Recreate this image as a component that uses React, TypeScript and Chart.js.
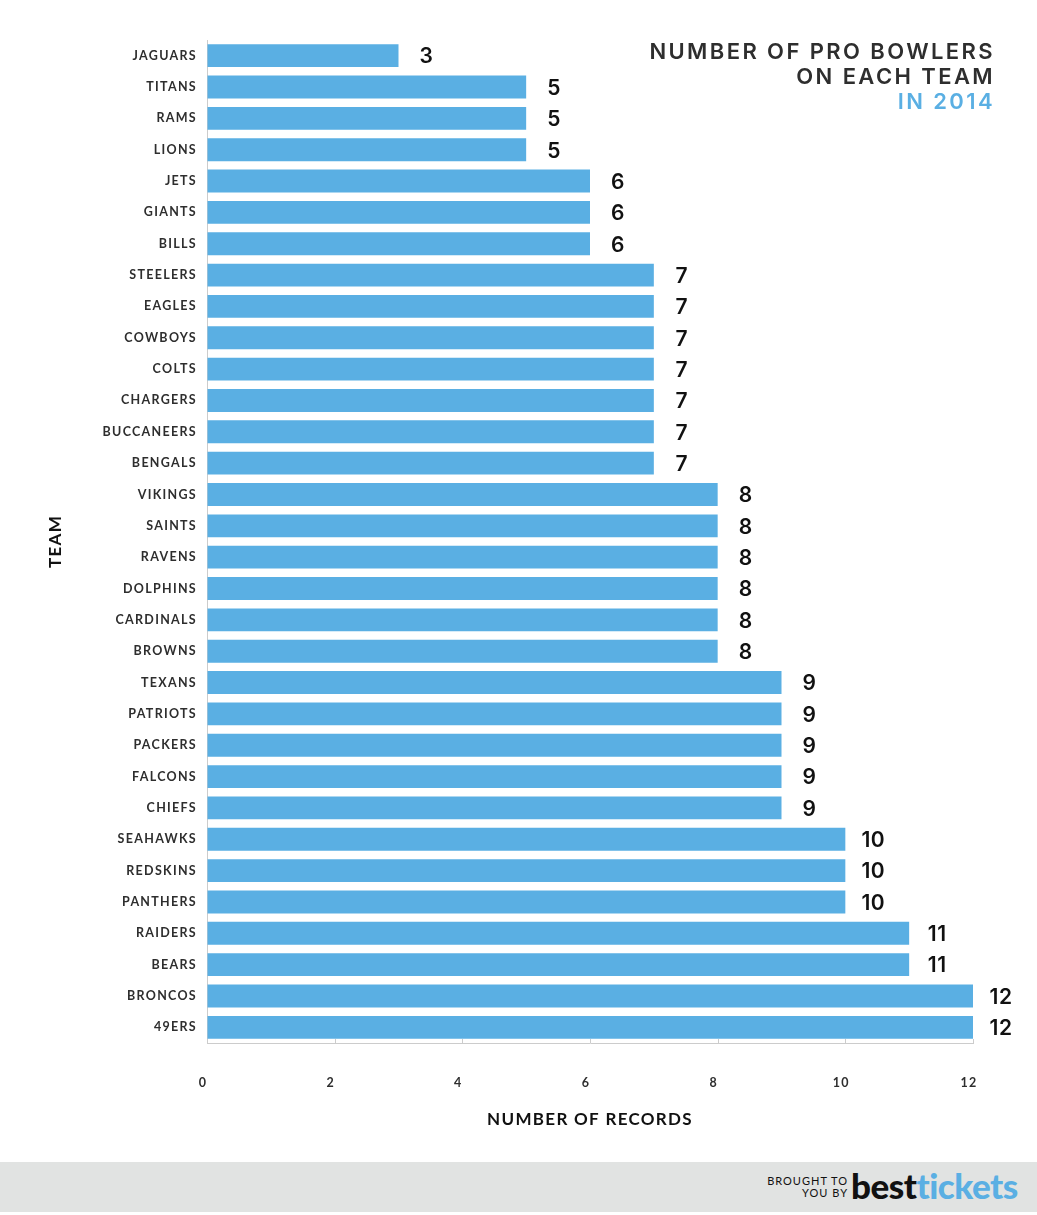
import React, { useEffect, useRef } from "react";
import { Chart, registerables } from "chart.js";

Chart.register(...registerables);

const teams = [
  "JAGUARS", "TITANS", "RAMS", "LIONS", "JETS", "GIANTS", "BILLS", "STEELERS",
  "EAGLES", "COWBOYS", "COLTS", "CHARGERS", "BUCCANEERS", "BENGALS", "VIKINGS",
  "SAINTS", "RAVENS", "DOLPHINS", "CARDINALS", "BROWNS", "TEXANS", "PATRIOTS",
  "PACKERS", "FALCONS", "CHIEFS", "SEAHAWKS", "REDSKINS", "PANTHERS", "RAIDERS",
  "BEARS", "BRONCOS", "49ERS",
];
const proBowlers = [
  3, 5, 5, 5, 6, 6, 6, 7, 7, 7, 7, 7, 7, 7, 8, 8, 8, 8, 8, 8, 9, 9, 9, 9, 9,
  10, 10, 10, 11, 11, 12, 12,
];
const titleLines = ["NUMBER OF PRO BOWLERS", "ON EACH TEAM"];
const titleYear = "IN 2014";
const xAxisTitle = "NUMBER OF RECORDS";
const yAxisTitle = "TEAM";

const BLUE = "#5aafe3";
const DARK = "#2e2e2e";
const FONT = "Lato, 'Open Sans', sans-serif";

const spacingPlugin = {
  id: "spacing",
  beforeDraw(chart: any) {
    (chart.ctx as any).letterSpacing = "1.3px";
  },
};

const tickMarksPlugin = {
  id: "tickMarks",
  afterDatasetsDraw(chart: any) {
    const ctx = chart.ctx;
    const xs = chart.scales.x;
    ctx.save();
    ctx.strokeStyle = "#cccccc";
    ctx.lineWidth = 1;
    xs.ticks.forEach((_t: any, i: number) => {
      const px = Math.round(xs.getPixelForTick(i)) + 0.5;
      ctx.beginPath();
      ctx.moveTo(px, xs.top);
      ctx.lineTo(px, xs.top - 4);
      ctx.stroke();
    });
    ctx.restore();
  },
};

const valueLabelsPlugin = {
  id: "valueLabels",
  afterDatasetsDraw(chart: any) {
    const ctx = chart.ctx;
    const meta = chart.getDatasetMeta(0);
    ctx.save();
    ctx.letterSpacing = "0.5px";
    ctx.fillStyle = "#111111";
    ctx.font = `600 21px Inter, ${FONT}`;
    ctx.textAlign = "center";
    ctx.textBaseline = "middle";
    meta.data.forEach((bar: any, i: number) => {
      ctx.fillText(String(proBowlers[i]), bar.x + 28, bar.y + 1.5);
    });
    ctx.restore();
  },
};

export default function App() {
  const canvasRef = useRef<HTMLCanvasElement | null>(null);

  useEffect(() => {
    document.body.style.margin = "0";
    const canvas = canvasRef.current;
    if (!canvas) return;
    const chart = new Chart(canvas, {
      type: "bar",
      data: {
        labels: teams,
        datasets: [
          {
            data: proBowlers,
            backgroundColor: BLUE,
            borderWidth: 0,
            barPercentage: 0.73,
            categoryPercentage: 1,
          },
        ],
      },
      options: {
        indexAxis: "y",
        responsive: false,
        animation: false,
        maintainAspectRatio: false,
        layout: { padding: { left: 0, right: 64, top: 40, bottom: 0 } },
        plugins: {
          legend: { display: false },
          tooltip: { enabled: false },
          title: { display: false },
        },
        scales: {
          x: {
            min: 0,
            max: 12,
            afterFit: (scale: any) => {
              scale.height = 119;
            },
            ticks: {
              stepSize: 2,
              padding: 32,
              labelOffset: -4,
              color: DARK,
              font: { family: FONT, size: 12.5, weight: "bold" },
            },
            grid: { drawOnChartArea: false, drawTicks: false },
            border: { display: true, color: "#cccccc" },
            title: {
              display: true,
              text: xAxisTitle,
              color: "#111111",
              font: { family: FONT, size: 17, weight: "bold" },
              padding: { top: 0, bottom: 32 },
            },
          },
          y: {
            afterFit: (scale: any) => {
              scale.width = 207;
            },
            ticks: {
              padding: 10,
              color: DARK,
              autoSkip: false,
              font: { family: FONT, size: 12.5, weight: "bold" },
            },
            grid: { drawOnChartArea: false, drawTicks: false },
            border: { display: true, color: "#cccccc" },
            title: {
              display: true,
              text: yAxisTitle,
              color: "#111111",
              font: { family: FONT, size: 17, weight: "bold" },
              padding: { top: 45, bottom: 0 },
            },
          },
        },
      },
      plugins: [spacingPlugin, tickMarksPlugin, valueLabelsPlugin],
    } as any);
    return () => chart.destroy();
  }, []);

  return (
    <div style={{ position: "relative", width: 1037, height: 1215, background: "#fff", overflow: "hidden" }}>
      <canvas ref={canvasRef} width={1037} height={1162} style={{ position: "absolute", left: 0, top: 0 }} />
      <div
        style={{
          position: "absolute",
          right: 1037 - 995,
          top: 39,
          textAlign: "right",
          fontFamily: `Inter, ${FONT}`,
          fontWeight: 600,
          fontSize: 22,
          lineHeight: "25px",
          letterSpacing: "2.4px",
          color: DARK,
          whiteSpace: "nowrap",
        }}
      >
        {titleLines.map((l) => (
          <div key={l}>{l}</div>
        ))}
        <div style={{ color: BLUE }}>{titleYear}</div>
      </div>
      <div
        style={{
          position: "absolute",
          left: 0,
          top: 1162,
          width: 1037,
          height: 50,
          background: "#e1e3e2",
        }}
      >
        <div
          style={{
            position: "absolute",
            right: 1037 - 848,
            top: 13,
            textAlign: "right",
            fontFamily: FONT,
            fontSize: 11,
            lineHeight: "12px",
            letterSpacing: "1px",
            color: "#111",
          }}
        >
          <div>BROUGHT TO</div>
          <div>YOU BY</div>
        </div>
        <div
          style={{
            position: "absolute",
            left: 851,
            top: 2,
            fontFamily: FONT,
            fontWeight: 900,
            fontSize: 35,
            lineHeight: "42px",
            letterSpacing: "-0.5px",
            whiteSpace: "nowrap",
          }}
        >
          <span style={{ color: "#111" }}>best</span>
          <span style={{ color: BLUE }}>tickets</span>
        </div>
      </div>
    </div>
  );
}
